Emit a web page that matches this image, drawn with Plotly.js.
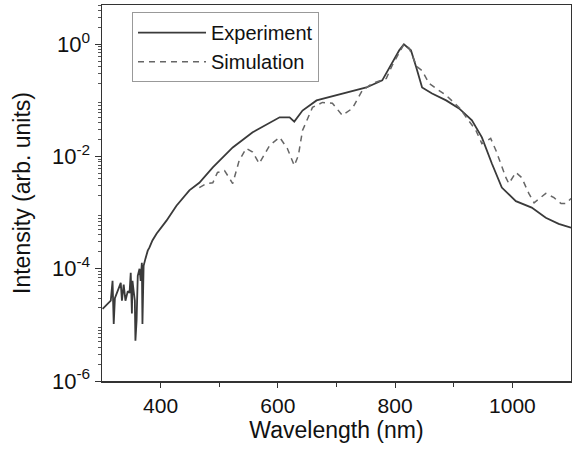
<!DOCTYPE html>
<html><head><meta charset="utf-8">
<script src="https://cdn.plot.ly/plotly-3.0.1.min.js"></script>
<style>html,body{margin:0;padding:0;background:#fff}#chart{width:572px;height:449px}</style>
</head><body><div id="chart"></div>
<script>
const expWavelength = [301,315,318,320,322,325,332,334,337,340,344,347,349,351,352,354,356,357,359,361,364,366,368,369,371,374,378,381,386,393,400,410,427,449,466,489,523,557,603,620,628,642,666,700,717,751,778,795,807,815,827,836,846,863,887,909,931,948,965,982,1006,1033,1057,1079,1100];
const expIntensity = [1.93e-5,2.7e-5,6.1e-5,1.04e-5,3.0e-5,3.7e-5,5.6e-5,2.7e-5,5.2e-5,2.7e-5,4.0e-5,3.7e-5,8.5e-5,1.6e-5,6.1e-5,4.0e-5,2.7e-5,5.2e-6,1.2e-5,7.5e-5,1.0e-4,6.1e-5,1.28e-4,1.04e-5,1.13e-4,1.5e-4,2.1e-4,2.4e-4,3.2e-4,4.2e-4,5.2e-4,7.2e-4,1.33e-3,2.5e-3,3.4e-3,6.4e-3,1.45e-2,2.7e-2,5.0e-2,5.0e-2,4.2e-2,6.6e-2,0.1,0.123,0.139,0.17,0.227,0.48,0.78,1.0,0.78,0.39,0.17,0.133,0.1,0.072,0.044,0.022,7.5e-3,2.8e-3,1.6e-3,1.23e-3,8.1e-4,6.3e-4,5.4e-4];
const simWavelength = [466,478,489,497,509,523,534,546,557,568,586,603,616,628,635,642,659,676,693,710,727,744,761,785,795,807,815,824,829,837,846,858,871,887,909,926,938,948,963,972,980,989,994,1006,1016,1028,1037,1057,1071,1083,1091,1100];
const simIntensity = [2.8e-3,3.3e-3,3.4e-3,5.2e-3,5.6e-3,3.3e-3,8.5e-3,1.4e-2,1.2e-2,7.5e-3,1.58e-2,2.2e-2,1.4e-2,6.9e-3,1.05e-2,2.9e-2,7.5e-2,9.2e-2,8.9e-2,5.4e-2,7.2e-2,0.15,0.20,0.247,0.42,0.72,1.0,0.85,0.64,0.40,0.34,0.20,0.16,0.123,0.075,0.044,0.029,0.017,0.021,0.0128,7.5e-3,4.2e-3,3.3e-3,5.2e-3,4.2e-3,2.2e-3,1.5e-3,2.2e-3,1.85e-3,1.45e-3,1.45e-3,1.78e-3];
const yTickVals = [1e-6,1e-4,1e-2,1];
const yTickText = ['10<sup>-6</sup>','10<sup>-4</sup>','10<sup>-2</sup>','10<sup>0</sup>'];
const xTickVals = [400,600,800,1000];

const minorY = [];
for (let e = -6; e <= 0; e++) for (let k = 2; k <= 9; k++) minorY.push(k * Math.pow(10, e));

const font = {family: '"Liberation Sans", Arial, sans-serif', color: '#111'};
const data = [
  {x: expWavelength, y: expIntensity, type: 'scatter', mode: 'lines', name: 'Experiment',
   legendgroup: 'a', line: {color: '#3a3a3a', width: 1.8}},
  {x: simWavelength, y: simIntensity, type: 'scatter', mode: 'lines', name: 'Simulation',
   legendgroup: 'b', line: {color: '#666', width: 1.5, dash: '6px,5px'}}
];
const layout = {
  width: 572, height: 449,
  margin: {l: 102, r: 1, t: 5, b: 68},
  paper_bgcolor: '#fff', plot_bgcolor: '#fff',
  font: Object.assign({size: 21}, font),
  showlegend: true,
  legend: {x: 0.064, y: 0.981, xanchor: 'left', yanchor: 'top', bgcolor: '#fff',
    bordercolor: '#999', borderwidth: 1, font: Object.assign({size: 20}, font),
    traceorder: 'grouped', tracegroupgap: 0, itemwidth: 68, entrywidth: 190},
  xaxis: {range: [300, 1100], tickmode: 'array', tickvals: xTickVals,
    ticks: 'outside', ticklen: 5, tickcolor: '#333', showline: true, linecolor: '#333', linewidth: 1.5,
    mirror: true, showgrid: false, zeroline: false,
    minor: {tickmode: 'array', tickvals: [500, 700, 900], ticks: 'outside', ticklen: 4, tickcolor: '#333'},
    tickfont: Object.assign({size: 21}, font),
    title: {text: 'Wavelength (nm)', font: Object.assign({size: 23}, font), standoff: 4}},
  yaxis: {type: 'log', range: [-6, 0.7], tickmode: 'array', tickvals: yTickVals, ticktext: yTickText,
    ticks: 'outside', ticklen: 6, tickcolor: '#333', showline: true, linecolor: '#333', linewidth: 1.5,
    mirror: true, showgrid: false, zeroline: false,
    minor: {tickmode: 'array', tickvals: minorY, ticks: 'outside', ticklen: 3, tickcolor: '#555'},
    tickfont: Object.assign({size: 22}, font),
    title: {text: 'Intensity (arb. units)', font: Object.assign({size: 23}, font), standoff: 15}}
};
Plotly.newPlot('chart', data, layout, {displayModeBar: false, staticPlot: true});
</script></body></html>
